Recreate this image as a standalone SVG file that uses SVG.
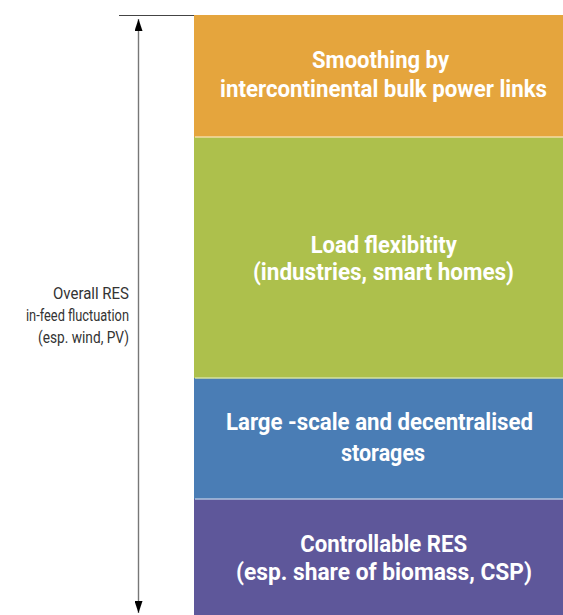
<svg xmlns="http://www.w3.org/2000/svg" width="563" height="615" viewBox="0 0 563 615">
<defs>
<style>
.bt{font-family:Roboto,"Liberation Sans",sans-serif;font-weight:bold;font-size:23px;fill:#fff;text-anchor:middle}
.lt{font-family:Roboto,"Liberation Sans",sans-serif;font-size:16.5px;fill:#333;text-anchor:end}
.sep{stroke-width:1.5}
</style>
<marker id="ah" viewBox="0 0 12 8" refX="12" refY="4" markerWidth="12" markerHeight="8" markerUnits="userSpaceOnUse" orient="auto-start-reverse">
<path d="M0,0 L12,4 L0,8 Z" fill="#000"/>
</marker>
</defs>
<rect width="563" height="615" fill="#fff"/>
<g id="connectors">
<line x1="119" y1="15.5" x2="194" y2="15.5" stroke="#444" stroke-width="1"/>
<line x1="138.5" y1="19" x2="138.5" y2="613" stroke="#777" stroke-width="1.4" marker-start="url(#ah)" marker-end="url(#ah)"/>
</g>
<g id="label-fluctuation">
<text class="lt" x="129" y="299" textLength="76" lengthAdjust="spacingAndGlyphs">Overall RES</text>
<text class="lt" x="129" y="321" textLength="103" lengthAdjust="spacingAndGlyphs">in-feed fluctuation</text>
<text class="lt" x="129" y="343" textLength="91" lengthAdjust="spacingAndGlyphs">(esp. wind, PV)</text>
</g>
<g id="node-smoothing">
<rect x="194" y="15" width="369" height="122" fill="#E5A53D"/>
<text class="bt" x="380.5" y="68" textLength="137" lengthAdjust="spacingAndGlyphs">Smoothing by</text>
<text class="bt" x="383.5" y="97" textLength="327" lengthAdjust="spacingAndGlyphs">intercontinental bulk power links</text>
</g>
<g id="node-load">
<rect x="194" y="137" width="369" height="241" fill="#ADC04C"/>
<line class="sep" x1="195" y1="137" x2="563" y2="137" stroke="#F3DCA6"/>
<text class="bt" x="383.7" y="253" textLength="146" lengthAdjust="spacingAndGlyphs">Load flexibitity</text>
<text class="bt" x="383.5" y="280" textLength="261" lengthAdjust="spacingAndGlyphs">(industries, smart homes)</text>
</g>
<g id="node-storage">
<rect x="194" y="378" width="369" height="121" fill="#4A7DB5"/>
<line class="sep" x1="195" y1="378" x2="563" y2="378" stroke="#D5E2A2"/>
<text class="bt" x="379.5" y="430" textLength="307" lengthAdjust="spacingAndGlyphs">Large -scale and decentralised</text>
<text class="bt" x="383" y="461" textLength="84" lengthAdjust="spacingAndGlyphs">storages</text>
</g>
<g id="node-controllable">
<rect x="194" y="499" width="369" height="116" fill="#5E579A"/>
<line class="sep" x1="195" y1="499" x2="563" y2="499" stroke="#B0C2DE"/>
<text class="bt" x="383.7" y="552" textLength="167" lengthAdjust="spacingAndGlyphs">Controllable RES</text>
<text class="bt" x="384" y="580" textLength="296" lengthAdjust="spacingAndGlyphs">(esp. share of biomass, CSP)</text>
</g>
</svg>
